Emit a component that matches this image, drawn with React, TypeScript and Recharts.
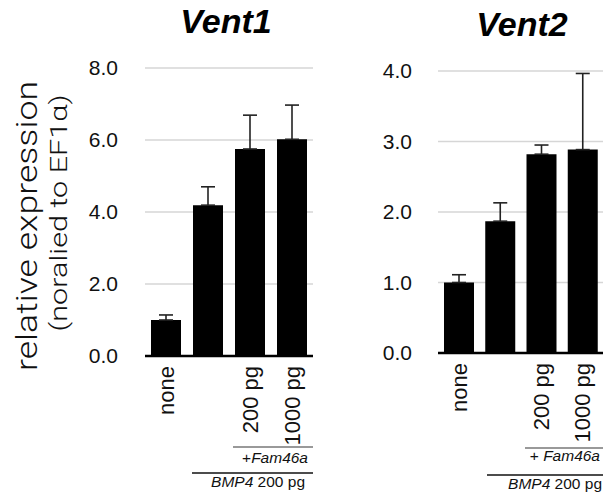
import React from 'react';
import { BarChart, Bar, XAxis, YAxis, CartesianGrid, ErrorBar } from 'recharts';

const categories = ['none', '', '200 pg', '1000 pg'];
const vent1Values = [1.0, 4.19, 5.75, 6.02];
const vent1ErrUp = [0.14, 0.51, 0.94, 0.95];
const vent2Values = [1.0, 1.87, 2.82, 2.885];
const vent2ErrUp = [0.11, 0.26, 0.13, 1.08];
const vent1Ticks = [0, 2, 4, 6, 8];
const vent2Ticks = [0, 1, 2, 3, 4];

const FONT = '"Liberation Sans", Helvetica, Arial, sans-serif';

const vent1Data = categories.map((c, i) => ({ name: c, value: vent1Values[i], err: [0, vent1ErrUp[i]] }));
const vent2Data = categories.map((c, i) => ({ name: c, value: vent2Values[i], err: [0, vent2ErrUp[i]] }));

const RotatedTick = ({ x, y, payload }: any) => {
  if (!payload.value) return null;
  return (
    <text
      x={x}
      y={y}
      transform={`rotate(-90, ${x}, ${y})`}
      textAnchor="end"
      dx={-10}
      dy="0.36em"
      fontSize={22}
      fontFamily={FONT}
      fill="#111"
    >
      {payload.value}
    </text>
  );
};

interface PanelProps {
  data: any[];
  ticks: number[];
  top: number;
  yAxisWidth: number;
  xAxisHeight: number;
  width: number;
  tickGap: number;
}

function Panel({ data, ticks, top, yAxisWidth, xAxisHeight, width, tickGap }: PanelProps) {
  return (
    <BarChart width={width} height={499} data={data} margin={{ top, right: 0, bottom: 0, left: 0 }} barSize={30}>
      <CartesianGrid vertical={false} stroke="#d6d6d6" strokeWidth={1.5} />
      <XAxis
        dataKey="name"
        height={xAxisHeight}
        axisLine={{ stroke: '#000', strokeWidth: 2.5 }}
        tickLine={false}
        tickSize={0}
        tickMargin={0}
        interval={0}
        tick={<RotatedTick />}
      />
      <YAxis
        width={yAxisWidth}
        domain={[ticks[0], ticks[ticks.length - 1]]}
        ticks={ticks}
        axisLine={false}
        tickLine={false}
        tickSize={0}
        tickMargin={tickGap}
        tickFormatter={(v: number) => v.toFixed(1)}
        tick={{ fontSize: 21, fontFamily: FONT, fill: '#111' }}
      />
      <Bar dataKey="value" fill="#000" isAnimationActive={false}>
        <ErrorBar dataKey="err" width={7} stroke="#222" strokeWidth={1.6} direction="y" />
      </Bar>
    </BarChart>
  );
}

export default function App() {
  return (
    <div style={{ position: 'absolute', left: 0, top: 0, width: 603, height: 499, background: '#fff' }}>
      <div style={{ position: 'absolute', left: 0, top: 0 }}>
        <Panel data={vent1Data} ticks={vent1Ticks} top={68} yAxisWidth={145} xAxisHeight={143} width={313} tickGap={27} />
      </div>
      <div style={{ position: 'absolute', left: 313, top: 0 }}>
        <Panel data={vent2Data} ticks={vent2Ticks} top={71} yAxisWidth={125} xAxisHeight={146} width={290} tickGap={26} />
      </div>
      <svg width={603} height={499} style={{ position: 'absolute', left: 0, top: 0, pointerEvents: 'none' }}>
        <g fontFamily={FONT} fontWeight="bold" fontStyle="italic" fontSize={34} fill="#000" textAnchor="middle">
          <text x={226} y={33}>Vent1</text>
          <text x={522} y={36}>Vent2</text>
        </g>
        <text
          x={37}
          y={226}
          transform="rotate(-90, 37, 226)"
          textAnchor="middle"
          fontSize={30}
          fontWeight={300}
          fontFamily='Roboto, "Liberation Sans", sans-serif'
          textLength={290}
          lengthAdjust="spacingAndGlyphs"
          fill="#111"
        >
          relative expression
        </text>
        <text
          x={67}
          y={213}
          transform="rotate(-90, 67, 213)"
          textAnchor="middle"
          fontSize={23}
          fontWeight={300}
          fontFamily='Roboto, "Liberation Sans", sans-serif'
          textLength={237}
          lengthAdjust="spacingAndGlyphs"
          fill="#111"
        >
          (noralied to EF1α)
        </text>
        {/* group brackets under the x axis */}
        <line x1={233} x2={313} y1={447} y2={447} stroke="#777" strokeWidth={1.5} />
        <line x1={192} x2={313} y1={473} y2={473} stroke="#111" strokeWidth={1.5} />
        <line x1={525} x2={603} y1={448} y2={448} stroke="#777" strokeWidth={1.5} />
        <line x1={487} x2={603} y1={475} y2={475} stroke="#111" strokeWidth={1.5} />
        <g fontFamily={FONT} fontSize={15.5} fill="#111" textAnchor="end">
          <text x={308} y={463}>+<tspan fontStyle="italic">Fam46a</tspan></text>
          <text x={305} y={487}><tspan fontStyle="italic">BMP4</tspan> 200 pg</text>
          <text x={600} y={461}>+ <tspan fontStyle="italic">Fam46a</tspan></text>
          <text x={602} y={489}><tspan fontStyle="italic">BMP4</tspan> 200 pg</text>
        </g>
      </svg>
    </div>
  );
}
